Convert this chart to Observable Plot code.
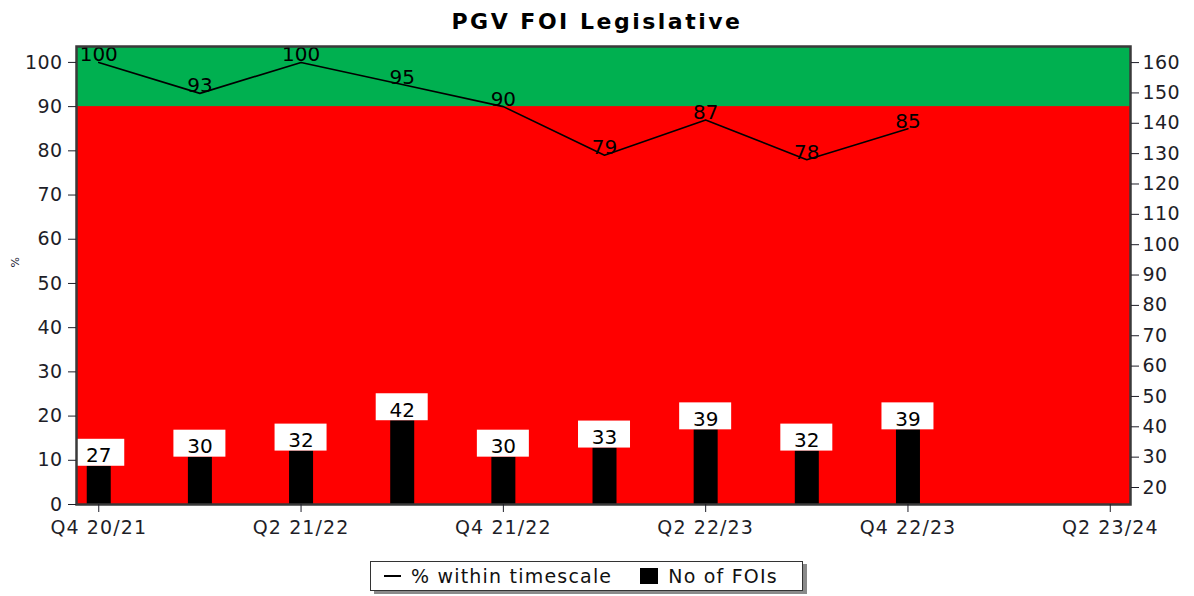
<!DOCTYPE html>
<html>
<head>
<meta charset="utf-8">
<script src="https://cdn.jsdelivr.net/npm/d3@7"></script>
<script src="https://cdn.jsdelivr.net/npm/@observablehq/plot@0.6"></script>
<style>
  html, body { margin: 0; padding: 0; background: #fff; }
  #wrap { position: relative; width: 1194px; height: 596px; font-family: "DejaVu Sans", Verdana, sans-serif; }
  #title { height: 36px; line-height: 44px; text-align: center; font-weight: bold; font-size: 22px; letter-spacing: 2.5px; color: #000; overflow: visible; }
  #legend { position: absolute; left: 370px; top: 561px; width: 433px; height: 30px; border: 1px solid #333; box-shadow: 4px 3px 0 #8a8a8a; background: #fff; font-size: 19px; letter-spacing: 1.2px; color: #111; display: flex; align-items: center; box-sizing: border-box; }
  .lg-line { display: inline-block; width: 17px; height: 2px; background: #000; margin: 0 10px 0 13px; }
  .lg-sq { display: inline-block; width: 18px; height: 16px; background: #000; margin: 0 10px 0 28px; }
  #chart svg g[aria-label="x-axis tick label"] text { letter-spacing: 1.1px; }
  #chart svg g[aria-label="y-axis tick label"] text { letter-spacing: 0.4px; }
</style>
</head>
<body>
<div id="wrap">
  <div id="title">PGV FOI Legislative</div>
  <div id="chart"></div>
  <div id="legend"><span class="lg-line"></span><span>% within timescale</span><span class="lg-sq"></span><span>No of FOIs</span></div>
</div>
<script>
// ---- data ----
const quarters = ["Q4 20/21","Q1 21/22","Q2 21/22","Q3 21/22","Q4 21/22","Q1 22/23","Q2 22/23","Q3 22/23","Q4 22/23","Q1 23/24","Q2 23/24"];
const pctWithin = [100, 93, 100, 95, 90, 79, 87, 78, 85];
const foiCounts = [27, 30, 32, 42, 30, 33, 39, 32, 39];
const leftTicks = [0, 10, 20, 30, 40, 50, 60, 70, 80, 90, 100];
const rightTicks = [20, 30, 40, 50, 60, 70, 80, 90, 100, 110, 120, 130, 140, 150, 160];
const xTickIndex = [0, 2, 4, 6, 8, 10];
const targetPct = 90;

// ---- scales ----
const yMax = 103.6;              // left axis (%)
const rMin = 14.4, rMax = 165.3; // right axis (count)
const toLeft = r => (r - rMin) / (rMax - rMin) * yMax;
const toRight = y => rMin + y / yMax * (rMax - rMin);
const xDomain = [-0.22, 10.2];

const rows = pctWithin.map((p, i) => ({i, pct: p, count: foiCounts[i], cy: toLeft(foiCounts[i])}));

const boxH = 6.1;     // label box height in % units
const boxHalf = 0.257; // label box half-width in quarter units

const chart = Plot.plot({
  width: 1194,
  height: 520,
  marginTop: 10,
  marginBottom: 52,
  marginLeft: 76,
  marginRight: 64,
  style: {fontFamily: "DejaVu Sans, Verdana, sans-serif", fontSize: "19px", color: "#1e1e28", background: "transparent", overflow: "visible"},
  x: {type: "linear", domain: xDomain, axis: null},
  y: {domain: [0, yMax], axis: null},
  marks: [
    Plot.frame({fill: "#FF0000", stroke: null}),
    Plot.rect([targetPct], {x1: xDomain[0], x2: xDomain[1], y1: d => d, y2: yMax, fill: "#00B050"}),
    Plot.ruleX(rows, {x: "i", y1: 0, y2: "cy", stroke: "#000", strokeWidth: 24}),
    Plot.rect(rows, {x1: d => d.i - boxHalf, x2: d => d.i + boxHalf, y1: "cy", y2: d => d.cy + boxH, fill: "#fff", clip: true}),
    Plot.text(rows, {x: "i", y: "cy", text: d => String(d.count), lineAnchor: "bottom", dy: -4, fontSize: 20, fill: "#000"}),
    Plot.line(rows, {x: "i", y: "pct", stroke: "#000", strokeWidth: 1.6}),
    Plot.text(rows, {x: "i", y: "pct", text: d => String(d.pct), lineAnchor: "bottom", dy: -1, fontSize: 20, fill: "#000"}),
    Plot.frame({stroke: "#3a3a3a", strokeWidth: 2.5}),
    Plot.axisY({ticks: leftTicks, anchor: "left", tickSize: 8, tickPadding: 6, tickFormat: d => String(d), fontSize: 19, label: null}),
    Plot.axisY({ticks: rightTicks.map(toLeft), anchor: "right", tickSize: 8, tickPadding: 4, tickFormat: d => String(Math.round(toRight(d))), fontSize: 19, label: null}),
    Plot.axisX({ticks: xTickIndex, anchor: "bottom", tickSize: 8, tickPadding: 8, tickFormat: i => quarters[i], fontSize: 19, label: null}),
    Plot.text(["%"], {frameAnchor: "left", text: d => d, rotate: -90, dx: -61, dy: -8, fontSize: 11, fill: "#223"})
  ]
});
document.getElementById("chart").appendChild(chart);
</script>
</body>
</html>
